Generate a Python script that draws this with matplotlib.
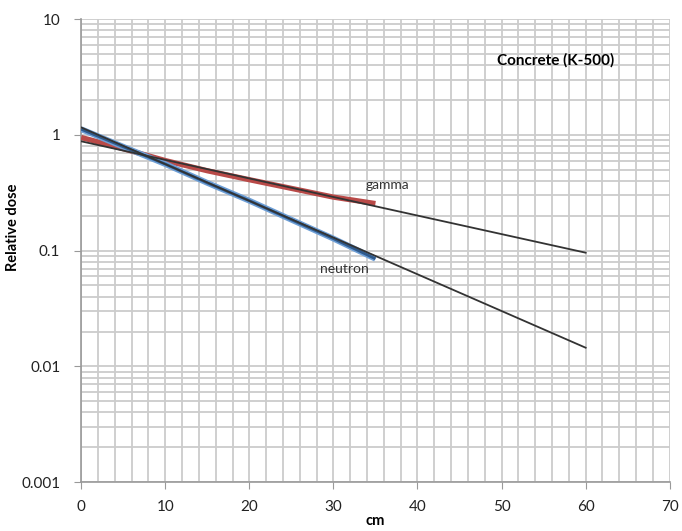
import matplotlib.pyplot as plt
from matplotlib.ticker import LogLocator, MultipleLocator, FixedLocator, NullFormatter

plt.rcParams['font.family'] = ['Lato', 'DejaVu Sans']

# measured data (0-35 cm)
depth = [0, 5, 10, 15, 20, 25, 30, 35]
gamma = [0.95, 0.76, 0.60, 0.49, 0.41, 0.345, 0.29, 0.255]
neutron = [1.12, 0.79, 0.56, 0.385, 0.27, 0.185, 0.127, 0.085]

# exponential trend lines (0-60 cm)
fit_x = [0, 60]
gamma_fit = [0.88, 0.096]
neutron_fit = [1.16, 0.0145]

fig = plt.figure(figsize=(6.82, 5.31), dpi=100)
ax = fig.add_axes([0.119, 0.092, 0.863, 0.872])

ax.plot(depth, gamma, color='#b94a48', lw=3.8, solid_capstyle='butt', zorder=3)
ax.plot(depth, neutron, color='#6e9fd6', lw=4.2, solid_capstyle='butt', zorder=3)
ax.plot(depth, neutron, color='#2f5a8c', lw=2.0, solid_capstyle='butt', zorder=3)
ax.plot(fit_x, gamma_fit, color='#333333', lw=1.3, zorder=4)
ax.plot(fit_x, neutron_fit, color='#333333', lw=1.3, zorder=4)

ax.set_yscale('log')
ax.set_xlim(0, 70)
ax.set_ylim(0.001, 10)

ax.xaxis.set_major_locator(MultipleLocator(10))
ax.xaxis.set_minor_locator(MultipleLocator(2))
ax.yaxis.set_major_locator(FixedLocator([0.001, 0.01, 0.1, 1, 10]))
ax.yaxis.set_minor_locator(LogLocator(base=10, subs=range(2, 10)))
ax.yaxis.set_minor_formatter(NullFormatter())
ax.set_yticklabels(['0.001', '0.01', '0.1', '1', '10'])

ax.grid(which='both', color='#cccccc', lw=1.3)
ax.set_axisbelow(True)
for side in ['top', 'right']:
    ax.spines[side].set_visible(False)
for side in ['left', 'bottom']:
    ax.spines[side].set_color('#999999')
    ax.spines[side].set_linewidth(1.2)

ax.tick_params(which='major', direction='out', length=5, color='#999999', labelsize=11, labelcolor='#222222')
ax.tick_params(which='minor', length=0)
ax.tick_params(axis='x', pad=8)
ax.tick_params(axis='y', pad=10)

ax.set_xlabel('cm', fontsize=10.5, fontweight='bold', labelpad=0)
ax.set_ylabel('Relative dose', fontsize=10.5, fontweight='bold')
ax.yaxis.set_label_coords(-0.104, 0.55)

ax.text(49.5, 4.4, 'Concrete (K-500)', fontsize=11, fontweight='bold', va='center')
ax.text(36.4, 0.37, 'gamma', fontsize=10, ha='center', va='center', color='#333333')
ax.text(31.3, 0.069, 'neutron', fontsize=10, ha='center', va='center', color='#333333')

plt.savefig('out.png', dpi=100)
plt.close()
